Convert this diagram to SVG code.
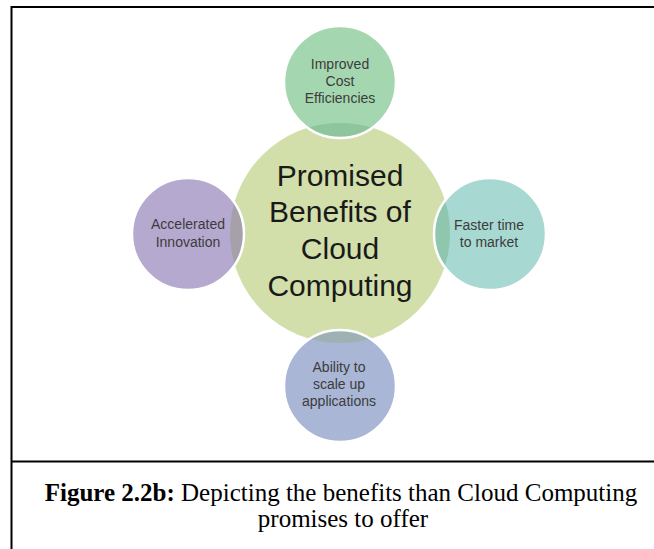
<svg xmlns="http://www.w3.org/2000/svg" width="654" height="549" viewBox="0 0 654 549">
<style>
.frame{stroke:#000;stroke-width:2;fill:none}
.ring{fill:none;stroke:#fff;stroke-width:2.5}
.sat{font-family:"Liberation Sans",Arial,sans-serif;font-size:14px;fill:#3c3c3c;text-anchor:middle}
.hub{font-family:"Liberation Sans",Arial,sans-serif;font-size:30px;fill:#1a1a1a;text-anchor:middle}
.cap{font-family:"Liberation Serif","Times New Roman",serif;font-size:25px;fill:#000;text-anchor:middle}
</style>
<defs>
<clipPath id="cTop"><circle cx="340" cy="82" r="56"/></clipPath>
<clipPath id="cLeft"><circle cx="188" cy="234" r="56"/></clipPath>
<clipPath id="cRight"><circle cx="490" cy="234" r="56"/></clipPath>
<clipPath id="cBottom"><circle cx="340" cy="386" r="56"/></clipPath>
</defs>
<rect width="654" height="549" fill="#fff"/>
<g id="frame">
<line class="frame" x1="11" y1="7" x2="654" y2="7"/>
<line class="frame" x1="11.5" y1="6" x2="11.5" y2="549"/>
<line class="frame" x1="11" y1="461.5" x2="654" y2="461.5"/>
</g>
<g id="connectors"></g>
<g id="hub">
<circle cx="340" cy="233" r="110" fill="#d2dfab"/>
<text class="hub" x="340" y="186">Promised</text>
<text class="hub" x="340" y="222">Benefits of</text>
<text class="hub" x="340" y="259">Cloud</text>
<text class="hub" x="340" y="296">Computing</text>
</g>
<g id="node-top">
<circle cx="340" cy="82" r="56" fill="#a4d7b0"/>
<circle cx="340" cy="233" r="110" fill="#8ec59c" clip-path="url(#cTop)"/>
<circle class="ring" cx="340" cy="82" r="56"/>
<text class="sat" x="340" y="69">Improved</text>
<text class="sat" x="340" y="86">Cost</text>
<text class="sat" x="340" y="103">Efficiencies</text>
</g>
<g id="node-left">
<circle cx="188" cy="234" r="56" fill="#b5a9cf"/>
<circle cx="340" cy="233" r="110" fill="#a6a0ab" clip-path="url(#cLeft)"/>
<circle class="ring" cx="188" cy="234" r="56"/>
<text class="sat" x="188" y="229">Accelerated</text>
<text class="sat" x="188" y="247">Innovation</text>
</g>
<g id="node-right">
<circle cx="490" cy="234" r="56" fill="#a8d8d2"/>
<circle cx="340" cy="233" r="110" fill="#8fc6ae" clip-path="url(#cRight)"/>
<circle class="ring" cx="490" cy="234" r="56"/>
<text class="sat" x="489" y="230">Faster time</text>
<text class="sat" x="489" y="247">to market</text>
</g>
<g id="node-bottom">
<circle cx="340" cy="386" r="56" fill="#a9b6d5"/>
<circle cx="340" cy="233" r="110" fill="#9fb2b3" clip-path="url(#cBottom)"/>
<circle class="ring" cx="340" cy="386" r="56"/>
<text class="sat" x="339" y="372">Ability to</text>
<text class="sat" x="339" y="389">scale up</text>
<text class="sat" x="339" y="406">applications</text>
</g>
<g id="caption">
<text class="cap" x="341" y="501"><tspan font-weight="bold">Figure 2.2b:</tspan> Depicting the benefits than Cloud Computing</text>
<text class="cap" x="343" y="527">promises to offer</text>
</g>
</svg>
